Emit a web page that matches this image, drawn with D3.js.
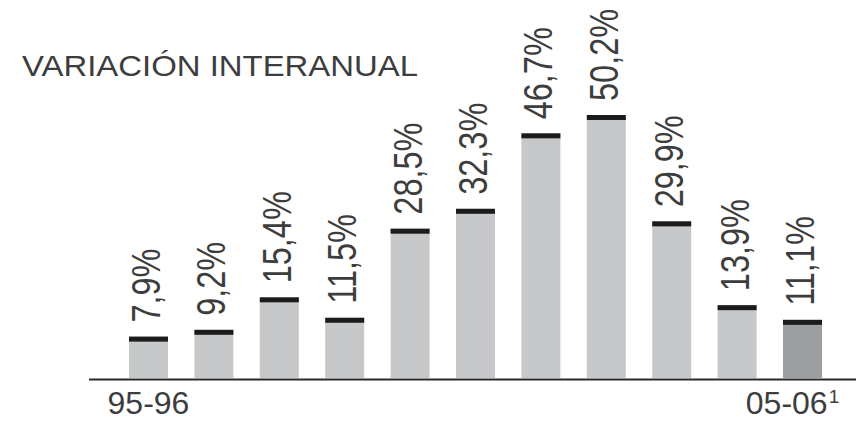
<!DOCTYPE html>
<html>
<head>
<meta charset="utf-8">
<script src="https://cdn.jsdelivr.net/npm/d3@7"></script>
<style>
  html, body { margin: 0; padding: 0; background: #fff; }
  svg { display: block; font-family: "Liberation Sans", Arial, Helvetica, sans-serif; }
</style>
</head>
<body>
<svg id="chart" width="863" height="426"></svg>
<script>
// ---- data ----
const categories = ["95-96","96-97","97-98","98-99","99-00","00-01","01-02","02-03","03-04","04-05","05-06"];
const values = [7.9, 9.2, 15.4, 11.5, 28.5, 32.3, 46.7, 50.2, 29.9, 13.9, 11.1];
const valueLabels = ["7,9%","9,2%","15,4%","11,5%","28,5%","32,3%","46,7%","50,2%","29,9%","13,9%","11,1%"];
const shownTicks = ["95-96","05-06"];
const title = "VARIACIÓN INTERANUAL";

const data = categories.map((c, i) => ({ cat: c, value: values[i], label: valueLabels[i], last: i === categories.length - 1 }));

const svg = d3.select("#chart");

const baseY = 378;
const x = d3.scaleBand().domain(categories).range([129, 822]).paddingInner(0.404).paddingOuter(0);
const y = d3.scaleLinear().domain([0, 50.2]).range([baseY, 115]);

const capH = 5;

// title
svg.append("text")
  .attr("x", 22).attr("y", 75.5)
  .attr("font-size", 30)
  .attr("fill", "#3d3d3d")
  .attr("textLength", 396)
  .attr("lengthAdjust", "spacingAndGlyphs")
  .text(title);

// bars
const g = svg.append("g");
g.selectAll("rect.bar").data(data).join("rect")
  .attr("class", "bar")
  .attr("x", d => x(d.cat))
  .attr("y", d => y(d.value))
  .attr("width", x.bandwidth())
  .attr("height", d => baseY - y(d.value))
  .attr("fill", d => d.last ? "#9d9ea1" : "#c7c8ca");

g.selectAll("rect.cap").data(data).join("rect")
  .attr("class", "cap")
  .attr("x", d => x(d.cat))
  .attr("y", d => y(d.value))
  .attr("width", x.bandwidth())
  .attr("height", capH)
  .attr("fill", "#1b1b1b");

// value labels (rotated)
g.selectAll("text.val").data(data).join("text")
  .attr("class", "val")
  .attr("font-size", 32.5)
  .attr("fill", "#3d3d3d")
  .attr("transform", d => `translate(${x(d.cat) + x.bandwidth() / 2 + 11.5},${y(d.value) - 14}) rotate(-90) scale(1,1.25)`)
  .text(d => d.label);

// axis line
svg.append("line")
  .attr("x1", 89).attr("x2", 856)
  .attr("y1", baseY + 1.5).attr("y2", baseY + 1.5)
  .attr("stroke", "#2a2a2a").attr("stroke-width", 2);

// tick labels
const axis = d3.axisBottom(x).tickSize(0).tickPadding(0)
  .tickValues(shownTicks)
  .tickFormat(d => d);
const ax = svg.append("g").attr("transform", `translate(0,${baseY})`).call(axis);
ax.select(".domain").remove();
ax.selectAll(".tick text")
  .attr("font-family", "Liberation Sans, Arial, sans-serif")
  .attr("font-size", 32)
  .attr("fill", "#3d3d3d")
  .attr("dy", null)
  .attr("y", 36);
ax.selectAll(".tick").filter(d => d === shownTicks[1]).select("text")
  .attr("dx", -10)
  .append("tspan").attr("font-size", 19).attr("dx", 1).attr("dy", -11).text("1");
</script>
</body>
</html>
